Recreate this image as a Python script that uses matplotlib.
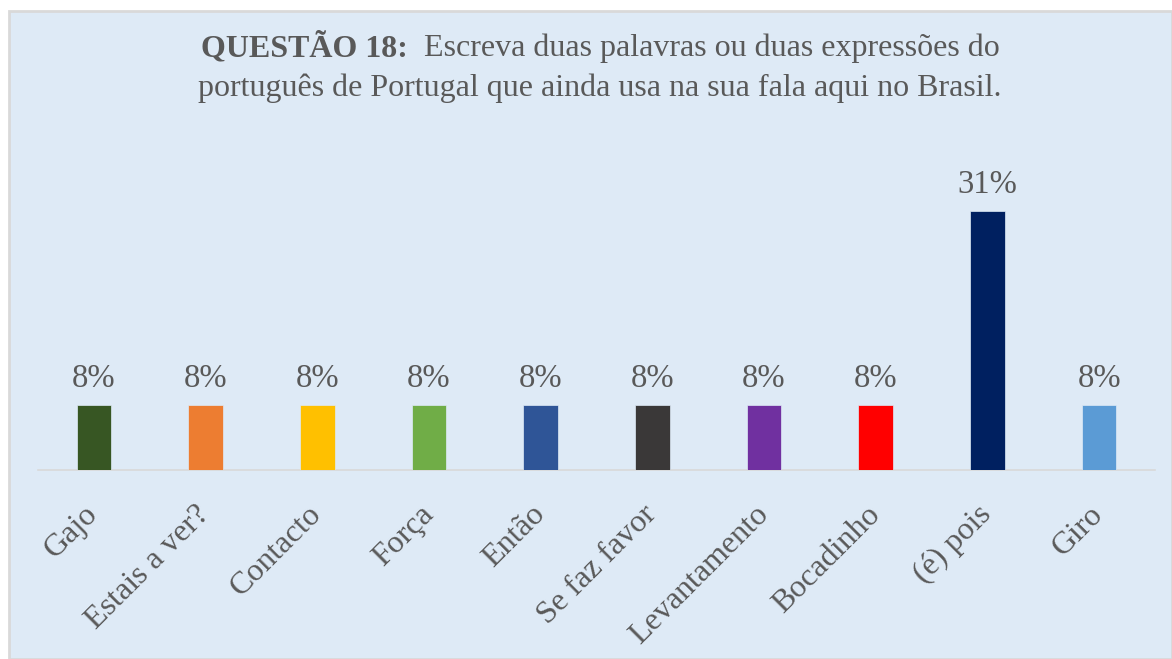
import matplotlib
matplotlib.use("Agg")
import matplotlib.pyplot as plt
from matplotlib.patches import Rectangle

# dados
categorias = ['Gajo', 'Estais a ver?', 'Contacto', 'Força', 'Então',
              'Se faz favor', 'Levantamento', 'Bocadinho', '(é) pois', 'Giro']
valores = [7.7, 7.7, 7.7, 7.7, 7.7, 7.7, 7.7, 7.7, 30.8, 7.7]
cores = ['#375623', '#ED7D31', '#FFC000', '#70AD47', '#2F5597',
         '#3A3838', '#7030A0', '#FF0000', '#002060', '#5B9BD5']
titulo_negrito = 'QUESTÃO 18:'
titulo_resto = '  Escreva duas palavras ou duas expressões do'
titulo_linha2 = 'português de Portugal que ainda usa na sua fala aqui no Brasil.'

plt.rcParams['font.family'] = ['Liberation Serif', 'DejaVu Serif']
cor_texto = '#595959'
fundo = '#DEEAF6'

W, H = 1172, 659
fig = plt.figure(figsize=(W / 100, H / 100), dpi=100)
fig.patch.set_facecolor('white')

# painel de fundo com borda
fig.patches.append(Rectangle((9 / W, 0), 1 - 9 / W, 1 - 11 / H, transform=fig.transFigure,
                             facecolor=fundo, edgecolor='#D9D9D9', linewidth=2, zorder=-10))

# eixo: linha base em y=470px, escala ~8.41 px por %
x0, x1 = 38, 1155
y_base, y_topo = 470, 160
ax = fig.add_axes([x0 / W, 1 - y_base / H, (x1 - x0) / W, (y_base - y_topo) / H])
ax.set_facecolor('none')
pos = range(len(categorias))
ax.bar(pos, valores, width=0.31, color=cores, edgecolor=fundo, linewidth=0.5, zorder=3)
ax.set_xlim(-0.5, len(categorias) - 0.5)
ax.set_ylim(0, (y_base - y_topo) / 8.41)

for i, v in enumerate(valores):
    ax.annotate(f'{v:.0f}%', (i, v), xytext=(0, 8), textcoords='offset points',
                ha='center', va='bottom', fontsize=23.5, color=cor_texto)

for s in ['top', 'right', 'left']:
    ax.spines[s].set_visible(False)
ax.spines['bottom'].set_color('#D9D9D9')
ax.spines['bottom'].set_linewidth(1.2)
ax.set_yticks([])
ax.set_xticks(list(pos))
ax.set_xticklabels(categorias, rotation=45, ha='right', va='center',
                   rotation_mode='anchor', fontsize=23, color=cor_texto)
ax.tick_params(axis='x', length=0, pad=29)

# título em duas linhas, primeira parte em negrito
t1 = fig.text(0, 1 - 48 / H, titulo_negrito, fontsize=23, fontweight='bold',
              color=cor_texto, va='center')
t2 = fig.text(0, 1 - 48 / H, titulo_resto, fontsize=23, color=cor_texto, va='center')
fig.text(600 / W, 1 - 88 / H, titulo_linha2, fontsize=23, color=cor_texto,
         ha='center', va='center')
fig.canvas.draw()
r = fig.canvas.get_renderer()
w1 = t1.get_window_extent(r).width
w2 = t2.get_window_extent(r).width
inicio = 600 - (w1 + w2) / 2
t1.set_x(inicio / W)
t2.set_x((inicio + w1) / W)

fig.savefig('out.png', dpi=100)
